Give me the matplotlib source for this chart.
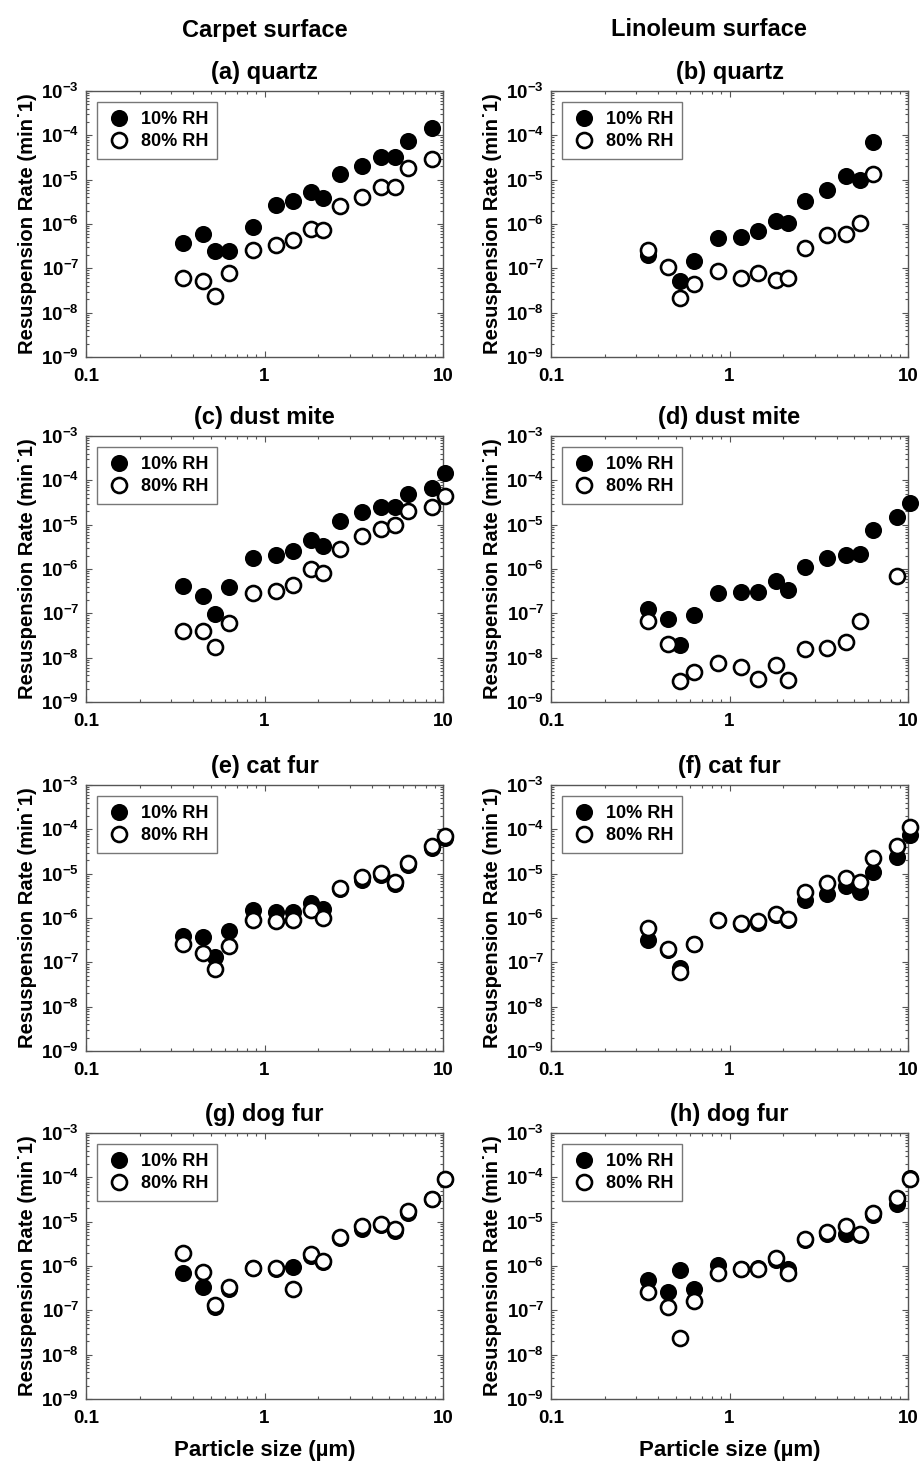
import numpy as np
import matplotlib
matplotlib.use("Agg")
import matplotlib.pyplot as plt
from matplotlib.ticker import LogLocator, FuncFormatter, NullFormatter

plt.rcParams['font.family'] = ['Liberation Sans', 'DejaVu Sans']
plt.rcParams['font.weight'] = 'bold'
plt.rcParams['mathtext.fontset'] = 'custom'
plt.rcParams['mathtext.rm'] = 'Liberation Sans:bold'
plt.rcParams['mathtext.bf'] = 'Liberation Sans:bold'
plt.rcParams['mathtext.default'] = 'bf'

nan = np.nan

# Particle size bins (µm)
sizes = [0.35, 0.45, 0.53, 0.63, 0.86, 1.16, 1.45, 1.82, 2.14, 2.64,
         3.54, 4.50, 5.35, 6.33, 8.65, 10.2]

# Resuspension rates (min^-1): carpet
carpet_quartz_10 = [3.8e-7, 5.8e-7, 2.45e-7, 2.45e-7, 8.6e-7, 2.64e-6, 3.25e-6, 5.2e-6,
                    3.86e-6, 1.35e-5, 2.05e-5, 3.3e-5, 3.3e-5, 7.4e-5, 1.48e-4, nan]
carpet_quartz_80 = [6.2e-8, 5.2e-8, 2.4e-8, 8.0e-8, 2.6e-7, 3.35e-7, 4.26e-7, 7.8e-7,
                    7.5e-7, 2.6e-6, 4.06e-6, 6.7e-6, 6.7e-6, 1.8e-5, 2.9e-5, nan]
carpet_mite_10 = [4.07e-7, 2.42e-7, 9.7e-8, 3.93e-7, 1.77e-6, 2.1e-6, 2.58e-6, 4.4e-6,
                  3.24e-6, 1.22e-5, 1.91e-5, 2.48e-5, 2.48e-5, 4.95e-5, 6.6e-5, 1.5e-4]
carpet_mite_80 = [3.95e-8, 3.95e-8, 1.75e-8, 5.9e-8, 2.88e-7, 3.25e-7, 4.44e-7, 1.0e-6,
                  8.1e-7, 2.81e-6, 5.6e-6, 8.07e-6, 9.6e-6, 2.05e-5, 2.48e-5, 4.47e-5]
carpet_cat_10 = [3.94e-7, 3.75e-7, 1.35e-7, 5.1e-7, 1.53e-6, 1.4e-6, 1.4e-6, 2.23e-6,
                 1.58e-6, 4.5e-6, 7.3e-6, 9.5e-6, 6.0e-6, 1.6e-5, 3.7e-5, 6.3e-5]
carpet_cat_80 = [2.56e-7, 1.6e-7, 7.2e-8, 2.35e-7, 9.1e-7, 8.6e-7, 9.1e-7, 1.5e-6,
                 1.02e-6, 4.7e-6, 8.2e-6, 1.01e-5, 6.5e-6, 1.73e-5, 4.27e-5, 7.2e-5]
carpet_dog_10 = [6.8e-7, 3.42e-7, 1.21e-7, 3.1e-7, 8.9e-7, 8.6e-7, 9.6e-7, 1.67e-6,
                 1.25e-6, 4.2e-6, 7.0e-6, 8.3e-6, 6.2e-6, 1.6e-5, 3.2e-5, 9.2e-5]
carpet_dog_80 = [1.92e-6, 7.4e-7, 1.32e-7, 3.3e-7, 9.2e-7, 8.9e-7, 2.98e-7, 1.86e-6,
                 1.29e-6, 4.56e-6, 7.9e-6, 8.8e-6, 7.0e-6, 1.73e-5, 3.33e-5, 9.4e-5]

# Resuspension rates (min^-1): linoleum
lino_quartz_10 = [1.95e-7, nan, 5.1e-8, 1.43e-7, 4.75e-7, 5.2e-7, 6.9e-7, 1.18e-6,
                  1.08e-6, 3.3e-6, 6.0e-6, 1.2e-5, 9.6e-6, 6.9e-5, nan, nan]
lino_quartz_80 = [2.65e-7, 1.07e-7, 2.16e-8, 4.5e-8, 8.8e-8, 5.9e-8, 8.0e-8, 5.4e-8,
                  6.05e-8, 2.84e-7, 5.6e-7, 5.9e-7, 1.08e-6, 1.37e-5, nan, nan]
lino_mite_10 = [1.26e-7, 7.5e-8, 1.98e-8, 9.4e-8, 2.88e-7, 2.98e-7, 2.98e-7, 5.3e-7,
                3.42e-7, 1.09e-6, 1.77e-6, 2.1e-6, 2.13e-6, 7.66e-6, 1.48e-5, 3.06e-5]
lino_mite_80 = [6.6e-8, 2.05e-8, 2.96e-9, 4.8e-9, 7.65e-9, 6.1e-9, 3.34e-9, 6.8e-9,
                3.2e-9, 1.58e-8, 1.64e-8, 2.27e-8, 6.6e-8, nan, 7.07e-7, nan]
lino_cat_10 = [3.23e-7, 1.86e-7, 7.4e-8, 2.55e-7, 8.8e-7, 7.5e-7, 7.8e-7, 1.15e-6,
               8.8e-7, 2.57e-6, 3.39e-6, 5.4e-6, 3.83e-6, 1.08e-5, 2.35e-5, 7.5e-5]
lino_cat_80 = [5.9e-7, 1.95e-7, 6.0e-8, 2.62e-7, 9.1e-7, 7.7e-7, 8.4e-7, 1.2e-6,
               9.6e-7, 3.83e-6, 6.1e-6, 8.0e-6, 6.4e-6, 2.23e-5, 4.16e-5, 1.11e-4]
lino_dog_10 = [4.75e-7, 2.64e-7, 8.1e-7, 3.08e-7, 1.03e-6, 8.7e-7, 9.2e-7, 1.4e-6,
               8.7e-7, 3.78e-6, 5.3e-6, 5.15e-6, 5.0e-6, 1.4e-5, 2.44e-5, 9.7e-5]
lino_dog_80 = [2.64e-7, 1.21e-7, 2.43e-8, 1.63e-7, 7.06e-7, 8.4e-7, 8.4e-7, 1.49e-6,
               6.8e-7, 4.1e-6, 5.8e-6, 7.9e-6, 5.15e-6, 1.58e-5, 3.44e-5, 9.4e-5]

panel_titles = ["(a) quartz", "(b) quartz", "(c) dust mite", "(d) dust mite",
                "(e) cat fur", "(f) cat fur", "(g) dog fur", "(h) dog fur"]
series = [(carpet_quartz_10, carpet_quartz_80), (lino_quartz_10, lino_quartz_80),
          (carpet_mite_10, carpet_mite_80), (lino_mite_10, lino_mite_80),
          (carpet_cat_10, carpet_cat_80), (lino_cat_10, lino_cat_80),
          (carpet_dog_10, carpet_dog_80), (lino_dog_10, lino_dog_80)]
legend_labels = ["10% RH", "80% RH"]
column_headers = ["Carpet surface", "Linoleum surface"]
ylabel = "Resuspension Rate (min\u02d91)"
xlabel = "Particle size (\u00b5m)"

W, H = 924, 1469
fig = plt.figure(figsize=(W / 100, H / 100), dpi=100)

col_left = [86, 551]
ax_w = 357
ax_h = 266
row_top = [91, 436, 785, 1133]

spine_col = '#555555'


def ytick_fmt(v, pos):
    e = int(round(np.log10(v)))
    return r'$\mathbf{10^{%d}}$' % e


def xtick_fmt(v, pos):
    if v < 1:
        return '0.1'
    return '%d' % v


for i, (title, (s10, s80)) in enumerate(zip(panel_titles, series)):
    r, c = divmod(i, 2)
    left = col_left[c] / W
    bottom = 1 - (row_top[r] + ax_h) / H
    ax = fig.add_axes([left, bottom, ax_w / W, ax_h / H])
    ax.set_xscale('log')
    ax.set_yscale('log')
    ax.set_xlim(0.1, 10)
    ax.set_ylim(1e-9, 1e-3)

    ax.plot(sizes, s10, linestyle='none', marker='o', markersize=10.8,
            markerfacecolor='black', markeredgecolor='black', markeredgewidth=1.5,
            clip_on=False, zorder=3, label=legend_labels[0])
    ax.plot(sizes, s80, linestyle='none', marker='o', markersize=10.8,
            markerfacecolor='white', markeredgecolor='black', markeredgewidth=1.9,
            clip_on=False, zorder=4, label=legend_labels[1])

    ax.yaxis.set_major_locator(LogLocator(base=10, numticks=10))
    ax.yaxis.set_minor_locator(LogLocator(base=10, subs=np.arange(2, 10), numticks=10))
    ax.yaxis.set_major_formatter(FuncFormatter(ytick_fmt))
    ax.yaxis.set_minor_formatter(NullFormatter())
    ax.xaxis.set_major_locator(LogLocator(base=10, numticks=10))
    ax.xaxis.set_minor_locator(LogLocator(base=10, subs=np.arange(2, 10), numticks=10))
    ax.xaxis.set_major_formatter(FuncFormatter(xtick_fmt))
    ax.xaxis.set_minor_formatter(NullFormatter())

    ax.tick_params(which='both', direction='in', top=True, right=True,
                   colors=spine_col, labelcolor='black', width=0.8)
    ax.tick_params(which='major', length=4, labelsize=13.5)
    ax.tick_params(axis='x', which='major', pad=8)
    ax.tick_params(axis='y', which='major', pad=5)
    ax.tick_params(which='minor', length=2)
    for sp in ax.spines.values():
        sp.set_color(spine_col)
        sp.set_linewidth(1.0)

    ax.set_title(title, fontsize=17, fontweight='bold', pad=9)
    ax.set_ylabel(ylabel, fontsize=14.6, fontweight='bold')
    ax.yaxis.set_label_coords(-0.138, 0.5)
    if r == 3:
        ax.set_xlabel(xlabel, fontsize=16, fontweight='bold', labelpad=9)

    leg = ax.legend(loc='upper left', frameon=True, fancybox=False,
                    edgecolor='#777777', framealpha=1, borderaxespad=0.6,
                    handlelength=1.5, handletextpad=0.45, borderpad=0.5,
                    labelspacing=0.3, prop={'weight': 'bold', 'size': 13})
    leg.get_frame().set_linewidth(1.0)

fig.text(265 / W, 1 - 30 / H, column_headers[0], ha='center', va='center',
         fontsize=17, fontweight='bold')
fig.text(709 / W, 1 - 30 / H, column_headers[1], ha='center', va='center',
         fontsize=17, fontweight='bold')

fig.savefig('out.png', dpi=100, facecolor='white')
